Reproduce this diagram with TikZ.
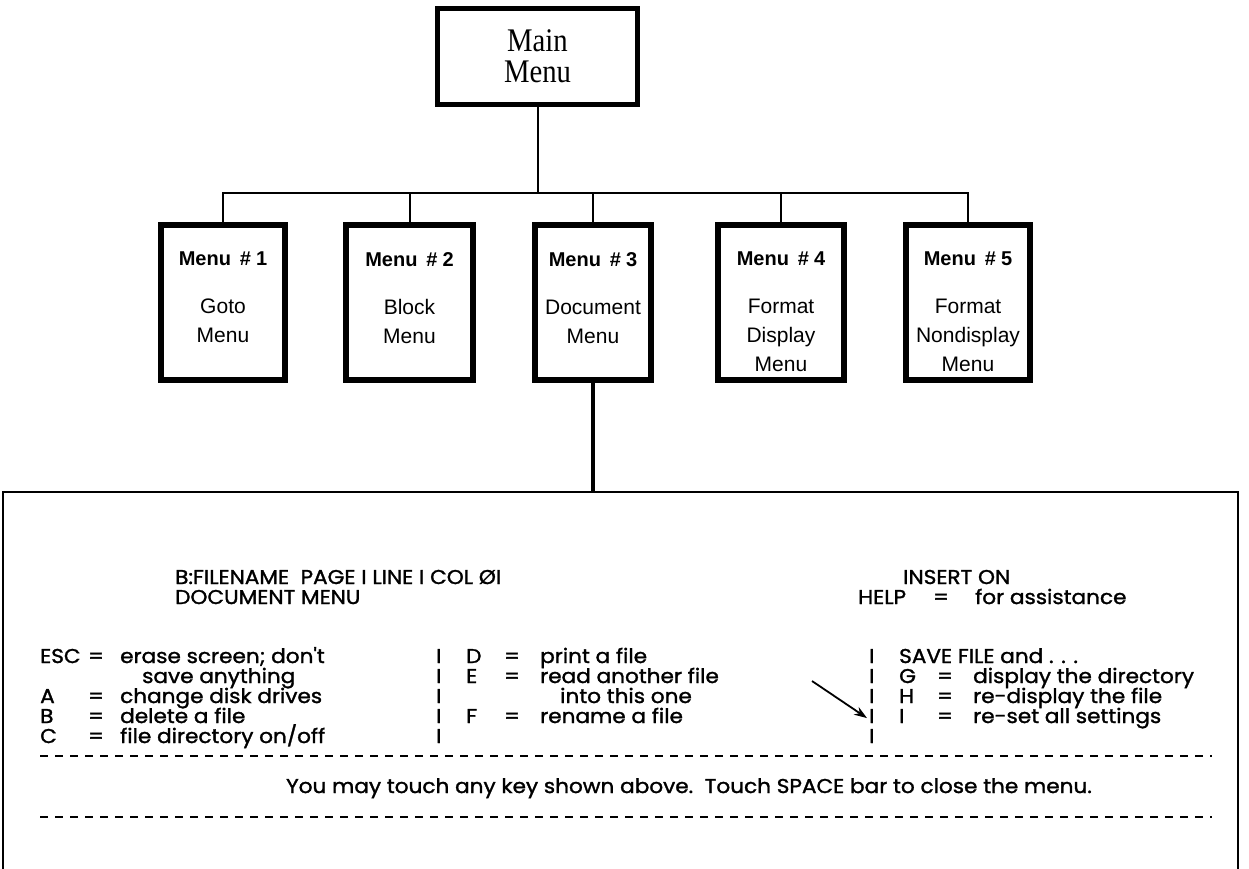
\documentclass[tikz,border=0pt]{standalone}
\usepackage{fontspec}
\setmainfont{Liberation Serif}
\newfontfamily\titlefont{Liberation Serif}[FakeStretch=0.87]
\newfontfamily\boxfont{Liberation Sans}
\newfontfamily\scrfont{Poppins}[FakeStretch=1.08,FakeBold=1.5]
\usetikzlibrary{arrows.meta}

\newcommand{\keyrow}[3]{\makebox[48pt][l]{#1}\makebox[32pt][l]{#2}#3}
\newcommand{\barrow}[4]{\makebox[30pt][l]{I}\makebox[38pt][l]{#2}\makebox[36pt][l]{#3}#4}
\newcommand{\menuhead}[1]{{\bfseries\fontsize{20}{29}\selectfont Menu\hspace{0.45em}\#\hspace{0.25em}#1}}

\begin{document}
\begin{tikzpicture}[x=1pt,y=-1pt]
  \tikzstyle{mainbox}=[draw,line width=5pt,minimum width=200pt,minimum height=96pt,align=center,
    font=\titlefont\fontsize{33}{31}\selectfont]
  \tikzstyle{menubox}=[draw,line width=6pt,minimum height=155pt,inner sep=0pt]
  \tikzstyle{menutext}=[anchor=north,align=center,inner sep=0pt,font=\boxfont\fontsize{21}{29}\selectfont]
  \tikzstyle{scrtext}=[anchor=base west,inner sep=0pt,font=\scrfont\fontsize{20}{20}\selectfont]
  \tikzstyle{link}=[line width=2pt]

  \useasboundingbox (0,0) rectangle (1249,869);

  \draw (537.5,56.5) node[mainbox] (main) {Main\\Menu};

  \draw (223,302.5) node[menubox,minimum width=124pt] (m1) {};
  \draw (409.5,302.5) node[menubox,minimum width=127pt] (m2) {};
  \draw (593,302.5) node[menubox,minimum width=116pt] (m3) {};
  \draw (781,302.5) node[menubox,minimum width=126pt] (m4) {};
  \draw (968,302.5) node[menubox,minimum width=124pt] (m5) {};

  \node[menutext] (t1) at ([yshift=-30pt]m1.north) {\menuhead{1}\\[19pt]Goto\\Menu};
  \node[menutext] (t2) at ([yshift=-30pt]m2.north) {\menuhead{2}\\[19pt]Block\\Menu};
  \node[menutext] (t3) at ([yshift=-30pt]m3.north) {\menuhead{3}\\[19pt]Document\\Menu};
  \node[menutext] (t4) at ([yshift=-30pt]m4.north) {\menuhead{4}\\[19pt]Format\\Display\\Menu};
  \node[menutext] (t5) at ([yshift=-30pt]m5.north) {\menuhead{5}\\[19pt]Format\\Nondisplay\\Menu};

  \coordinate (bus) at (537.5,193);
  \path[link] (main) edge (bus);
  \path[link] (m1.north) edge[-,to path={|- (\tikztotarget)}] (bus);
  \path[link] (m2.north) edge[-,to path={|- (\tikztotarget)}] (bus);
  \path[link] (m3.north) edge[-,to path={|- (\tikztotarget)}] (bus);
  \path[link] (m4.north) edge[-,to path={|- (\tikztotarget)}] (bus);
  \path[link] (m5.north) edge[-,to path={|- (\tikztotarget)}] (bus);

  % the document menu screen
  \draw (620.5,696) node[draw,line width=2pt,minimum width=1235pt,minimum height=408pt] (scr) {};
  \draw[line width=3.5pt] (m3.south) -- (m3.south |- scr.north);

  \draw (175,584) node[scrtext] (h1) {B:FILENAME\ \ PAGE I LINE I COL ØI};
  \draw (175,604) node[scrtext] (h2) {DOCUMENT MENU};
  \draw (903,584) node[scrtext] (h3) {INSERT ON};
  \draw (858,604) node[scrtext] (h4) {\makebox[75pt][l]{HELP}\makebox[42pt][l]{=}for assistance};

  \draw (40,663) node[scrtext] (a1) {\keyrow{ESC}{=}{erase screen; don't}};
  \draw (142,683) node[scrtext] (a2) {save anything};
  \draw (40,703) node[scrtext] (a3) {\keyrow{A}{=}{change disk drives}};
  \draw (40,723) node[scrtext] (a4) {\keyrow{B}{=}{delete a file}};
  \draw (40,743) node[scrtext] (a5) {\keyrow{C}{=}{file directory on/off}};

  \draw (436,663) node[scrtext] (b1) {\barrow{}{D}{=}{print a file}};
  \draw (436,683) node[scrtext] (b2) {\barrow{}{E}{=}{read another file}};
  \draw (436,703) node[scrtext] (b3) {\barrow{}{}{}{\hspace{20pt}into this one}};
  \draw (436,723) node[scrtext] (b4) {\barrow{}{F}{=}{rename a file}};
  \draw (436,743) node[scrtext] (b5) {I};

  \draw (869,663) node[scrtext] (c1) {\makebox[30pt][l]{I}SAVE FILE and . . .};
  \draw (869,683) node[scrtext] (c2) {\barrow{}{G}{=}{display the directory}};
  \draw (869,703) node[scrtext] (c3) {\barrow{}{H}{=}{re-display the file}};
  \draw (869,723) node[scrtext] (c4) {\barrow{}{I}{=}{re-set all settings}};
  \draw (869,743) node[scrtext] (c5) {I};

  \coordinate (tail) at (812,681);
  \draw[line width=1.8pt,-{Stealth[length=13pt,width=9pt]}] (tail) -- ([xshift=-2pt]c4.west);

  \draw[line width=2pt,dash pattern=on 8pt off 7pt] (40,756) -- (1212,756);
  \draw (689,793) node[scrtext,anchor=base] (foot) {You may touch any key shown above.\ \ Touch SPACE bar to close the menu.};
  \draw[line width=2pt,dash pattern=on 8pt off 7pt] (40,817) -- (1212,817);

\end{tikzpicture}
\end{document}
